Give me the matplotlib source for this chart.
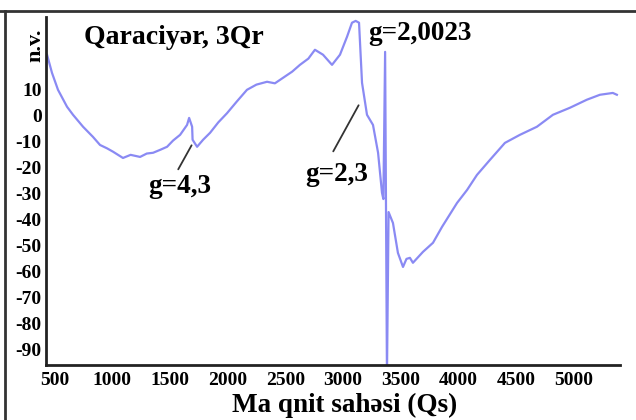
import matplotlib.pyplot as plt
from matplotlib.lines import Line2D

plt.rcParams['axes.unicode_minus'] = False   # plain hyphen like the original

# magnetic field (Qs) and signal (n.v.)
field = [436, 479, 531, 609, 661, 748, 834, 895, 956, 1008, 1094, 1160, 1242, 1300,
         1355, 1420, 1476, 1528, 1589, 1649, 1667, 1693, 1697, 1736, 1788, 1849, 1920,
         1995, 2080, 2168, 2250, 2342, 2410, 2480, 2560, 2627, 2700, 2757, 2827, 2905,
         2974, 3035, 3078, 3110, 3139, 3165, 3208, 3260, 3304, 3338, 3350, 3365, 3381,
         3395, 3433, 3476, 3520, 3550, 3580, 3606, 3693, 3780, 3858, 3988, 4075, 4161,
         4274, 4403, 4533, 4680, 4819, 4966, 5113, 5226, 5338, 5373]
signal = [23.5, 16.5, 10, 3.5, 0.4, -4.2, -8.1, -11.2, -12.5, -13.8, -16.2, -15, -15.8, -14.5,
          -14.2, -13, -11.9, -9.5, -7.3, -3.5, -0.8, -4.2, -9.2, -11.9, -9.2, -6.5, -2.5,
          1, 5.5, 10, 12, 13.1, 12.5, 14.6, 17, 19.6, 22, 25.4, 23.5, 19.6,
          23.5, 30.4, 35.8, 36.5, 35.8, 12.7, 0.4, -3.5, -14.2, -29.6, -32, 24.6, -100,
          -37, -41.2, -52.7, -58.1, -55, -54.6, -56.5, -52.3, -48.8, -42.7, -33.5, -28.5, -22.7,
          -16.9, -10.4, -7.3, -4.2, 0.4, 3.1, 6.2, 8.1, 8.8, 8.1]

xticks = [500, 1000, 1500, 2000, 2500, 3000, 3500, 4000, 4500, 5000]
yticks = [10, 0, -10, -20, -30, -40, -50, -60, -70, -80, -90]

# labels: (text, x, y) and leader lines: (x0, y0, x1, y1)
labels = [("g=4,3", 1588, -27.3), ("g=2,3", 2947, -22.7), ("g=2,0023", 3666, 31.5)]
leaders = [(1561, -21.5, 1700, -10.4), (2904, -14.6, 3147, 5.0)]

serif = "Liberation Serif"

fig = plt.figure(figsize=(6.36, 4.2), dpi=100)
ax = fig.add_axes([46/636, 1 - 365/420, (620 - 46)/636, (365 - 17)/420])

ax.plot(field, signal, color="#7676f2", lw=1.6, alpha=0.85)

ax.set_xlim(427, 5400)
ax.set_ylim(-95.8, 38)
ax.set_xticks(xticks)
ax.set_yticks(yticks)
ax.tick_params(axis='x', length=0, pad=5)
ax.tick_params(axis='y', length=0, pad=3)
for t in ax.get_xticklabels() + ax.get_yticklabels():
    t.set_fontfamily(serif)
    t.set_fontweight("bold")
    t.set_fontsize(14)

for s in ["top", "right"]:
    ax.spines[s].set_visible(False)
for s in ["left", "bottom"]:
    ax.spines[s].set_linewidth(2)
    ax.spines[s].set_color("#222222")

ax.text(1535, 30, "Qaraciyər, 3Qr", fontsize=20, fontweight="bold", family=serif,
        ha="center", va="center")
for txt, x, y in labels:
    ax.text(x, y, txt, fontsize=19.5, fontweight="bold", family=serif,
            ha="center", va="center")
for x0, y0, x1, y1 in leaders:
    ax.annotate("", xy=(x1, y1), xytext=(x0, y0),
                arrowprops=dict(arrowstyle="-", color="#333333", lw=1.3))

fig.text(35/636, 1 - 45/420, "n.v.", rotation=90, fontsize=16, fontweight="bold",
         family=serif, ha="center", va="center")
fig.text(345/636, 1 - 405/420, "Ma qnit sahəsi (Qs)", fontsize=19.5, fontweight="bold",
         family=serif, ha="center", va="center")

# outer frame (top and left edges only)
fig.add_artist(Line2D([0, 1], [1 - 11/420, 1 - 11/420], color="#333333", lw=2,
                      transform=fig.transFigure))
fig.add_artist(Line2D([5/636, 5/636], [0, 1 - 11/420], color="#333333", lw=2,
                      transform=fig.transFigure))

fig.savefig("out.png", dpi=100)
